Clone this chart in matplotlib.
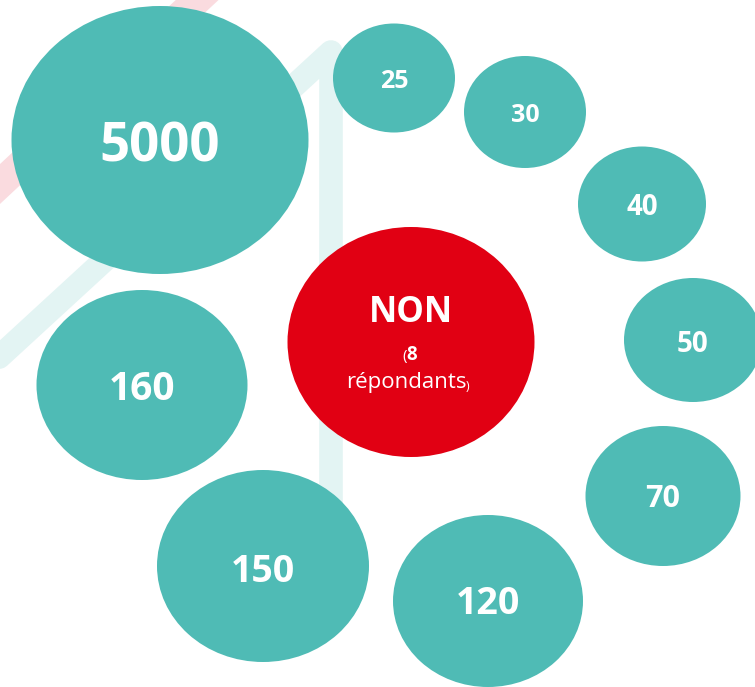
import matplotlib.pyplot as plt
from matplotlib.patches import Ellipse

# values shown in the bubbles
values = [5000, 25, 30, 40, 50, 70, 120, 150, 160]
center_title = "NON"
center_count = 8
center_unit = "répondants"

# layout (pixel coords of the image), kept apart from the data
cx = [160, 394, 525, 642, 693, 663, 488, 263, 142]
cy = [140, 78, 112, 204, 340, 496, 601, 566, 385]
ew = [297, 122, 122, 128, 138, 155, 190, 212, 211]
eh = [268, 109, 112, 115, 124, 140, 172, 192, 190]
ty = [142, 79, 113, 205, 342, 496, 601, 568, 386]
fsz = [38, 18, 18, 20, 20, 22, 27, 27, 28]

teal = "#4fbbb5"
red = "#e10013"

W, H = 755, 687
fig = plt.figure(figsize=(W/100, H/100), dpi=100)
ax = fig.add_axes([0, 0, 1, 1])
ax.set_xlim(0, W)
ax.set_ylim(H, 0)
ax.axis("off")

# faint decorative lines in the background
ax.plot([-60, 240], [240, -40], color="#fadbdf", lw=21, zorder=0)
ax.plot([-40, 331, 331], [393, 52, 520], color="#e3f4f3", lw=17,
        solid_capstyle="round", solid_joinstyle="round", zorder=0)

for v, x, y, w, h, t, s in zip(values, cx, cy, ew, eh, ty, fsz):
    ax.add_patch(Ellipse((x, y), w, h, color=teal, lw=0, zorder=2))
    # baseline = visual centre + half the cap height
    ax.text(x, t + 0.5 * s, str(v), color="white", fontsize=s, fontweight="bold",
            family="Open Sans", ha="center", va="baseline", zorder=3)

ax.add_patch(Ellipse((411, 342), 247, 230, color=red, lw=0, zorder=2))
ax.text(411, 322, center_title, color="white", fontsize=25, fontweight="bold",
        family="Open Sans", ha="center", va="baseline", zorder=3)
ax.text(407, 360, "(", color="white", fontsize=11, family="Open Sans",
        ha="right", va="baseline", zorder=3)
ax.text(406, 360, str(center_count), color="white", fontsize=13.5, fontweight="bold",
        family="Open Sans", ha="left", va="baseline", zorder=3)
ax.text(406, 388, center_unit, color="white", fontsize=16,
        family="Open Sans", ha="center", va="baseline", zorder=3)
ax.text(466, 390, ")", color="white", fontsize=9, family="Open Sans",
        ha="left", va="baseline", zorder=3)

fig.savefig("out.png", dpi=100)
